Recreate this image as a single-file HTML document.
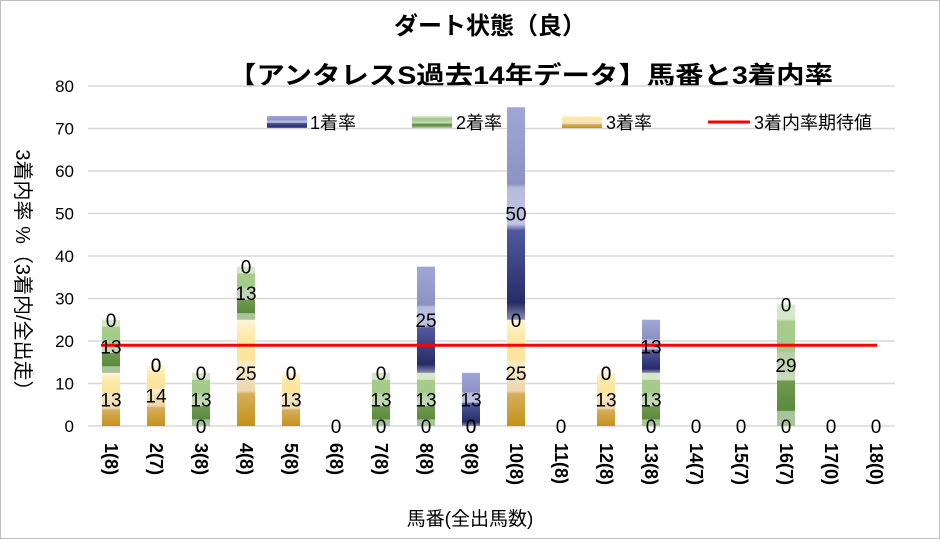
<!DOCTYPE html>
<html><head><meta charset="utf-8"><style>
body{margin:0;background:#fff}
svg{display:block;font-family:"Liberation Sans","Noto Sans CJK JP",sans-serif}
</style></head><body>
<svg id="c" width="940" height="539">
<defs>
<linearGradient id="g3" x1="0" y1="1" x2="0" y2="0">
<stop offset="0" stop-color="#c4921a"/><stop offset="0.3" stop-color="#d6ae5c"/><stop offset="0.33" stop-color="#ecd6ae"/><stop offset="0.6" stop-color="#f8ecc8"/><stop offset="0.63" stop-color="#fde39a"/><stop offset="0.85" stop-color="#fde9a8"/><stop offset="1" stop-color="#fff6dc"/></linearGradient>
<linearGradient id="g2" x1="0" y1="1" x2="0" y2="0">
<stop offset="0" stop-color="#a8c49a"/><stop offset="0.12" stop-color="#a8c49a"/><stop offset="0.13" stop-color="#5a8a3c"/><stop offset="0.37" stop-color="#6e9a50"/><stop offset="0.38" stop-color="#c8dcbc"/><stop offset="0.6" stop-color="#b8d0a8"/><stop offset="0.62" stop-color="#a0cc88"/><stop offset="0.86" stop-color="#a8cc8c"/><stop offset="0.88" stop-color="#d5e8cc"/><stop offset="1" stop-color="#d5e8cc"/></linearGradient>
<linearGradient id="g1" x1="0" y1="1" x2="0" y2="0">
<stop offset="0" stop-color="#8a90b0"/><stop offset="0.08" stop-color="#262c66"/><stop offset="0.42" stop-color="#5058a0"/><stop offset="0.45" stop-color="#c0c4e2"/><stop offset="0.62" stop-color="#b8bcdc"/><stop offset="0.64" stop-color="#8c92c4"/><stop offset="1" stop-color="#a0a6d6"/></linearGradient>
</defs>
<rect x="0.5" y="0.5" width="939" height="538" fill="#fff" stroke="#bfbfbf"/>
<text x="490" y="34" text-anchor="middle" font-size="24" font-weight="bold">ダート状態（良）</text>
<text x="228" y="84" textLength="605" lengthAdjust="spacingAndGlyphs" font-size="25" font-weight="bold">【アンタレスS過去14年データ】馬番と3着内率</text>
<text transform="translate(16,275) rotate(90)" text-anchor="middle" font-size="20">3着内率 %（3着内/全出走）</text>
<text x="470" y="525" text-anchor="middle" font-size="19">馬番(全出馬数)</text>
<g id="legend">
<rect x="267" y="116" width="40" height="12" fill="url(#g1)"/>
<text x="310" y="129" font-size="18">1着率</text>
<rect x="412" y="116" width="40" height="12" fill="url(#g2)"/>
<text x="456" y="129" font-size="18">2着率</text>
<rect x="562" y="116" width="40" height="12" fill="url(#g3)"/>
<text x="606" y="129" font-size="18">3着率</text>
<line x1="708" y1="122" x2="750" y2="122" stroke="#f00" stroke-width="3"/>
<text x="754" y="129" font-size="18">3着内率期待値</text>
</g>
</svg>
<script>
const categories=["1(8)","2(7)","3(8)","4(8)","5(8)","6(8)","7(8)","8(8)","9(8)","10(8)","11(8)","12(8)","13(8)","14(7)","15(7)","16(7)","17(0)","18(0)"];
const third=[12.5,14.3,0,25,12.5,0,0,0,0,25,0,12.5,0,0,0,0,0,0];
const second=[12.5,0,12.5,12.5,0,0,12.5,12.5,0,0,0,0,12.5,0,0,28.6,0,0];
const first=[0,0,0,0,0,0,0,25,12.5,50,0,0,12.5,0,0,0,0,0];
const expected=19;
const yTicks=[0,10,20,30,40,50,60,70,80];
const svg=document.getElementById('c');
const NS='http://www.w3.org/2000/svg';
const y0=426,yTop=86,yMax=80,x1=111,dx=45,bw=18;
const Y=v=>y0-(v/yMax)*(y0-yTop);
const X=i=>x1+i*dx;
function mk(t,a){const e=document.createElementNS(NS,t);for(const k in a)e.setAttribute(k,a[k]);return e;}
const grid=mk('g',{});


svg.insertBefore(grid,document.getElementById('legend'));
yTicks.forEach(v=>{
 const l=mk('line',{x1:88,x2:895,y1:Y(v),y2:Y(v),stroke:'#d9d9d9','stroke-width':1.5});
 
 
 grid.appendChild(l);
 const t=mk('text',{x:74,y:Y(v)+6,'text-anchor':'end','font-size':17});
 t.textContent=v;
 
 
 svg.appendChild(t);
});
const series=[[third,'g3','3rd'],[second,'g2','2nd'],[first,'g1','1st']];
const labels=[];
categories.forEach((c,i)=>{
 let base=0;
 series.forEach(([arr,g,n])=>{
  const v=arr[i];
  if(v>0){
   const r=mk('rect',{x:X(i)-bw/2,y:Y(base+v),width:bw,height:Y(base)-Y(base+v),fill:'url(#'+g+')'});
   
   
   svg.appendChild(r);
  }
  const show=!(v===0 && n!=='3rd' && third[i]+second[i]+first[i]===0);
  if(show) labels.push([X(i),Y(base+v/2),Math.round(v),n,i]);
  base+=v;
 });
 const t=mk('text',{transform:`translate(${X(i)-6},443) rotate(90)`,'font-size':18,'font-weight':'bold'});
 t.textContent=c;
 
 
 svg.appendChild(t);
});
const line=mk('line',{x1:X(0)-10,x2:877,y1:Y(expected),y2:Y(expected),stroke:'#f00','stroke-width':3});


svg.appendChild(line);
labels.forEach(([x,y,v,n,i])=>{
 const t=mk('text',{x:x,y:y+7,'text-anchor':'middle','font-size':19});
 t.textContent=v;
 
 
 svg.appendChild(t);
});
</script>
</body></html>
